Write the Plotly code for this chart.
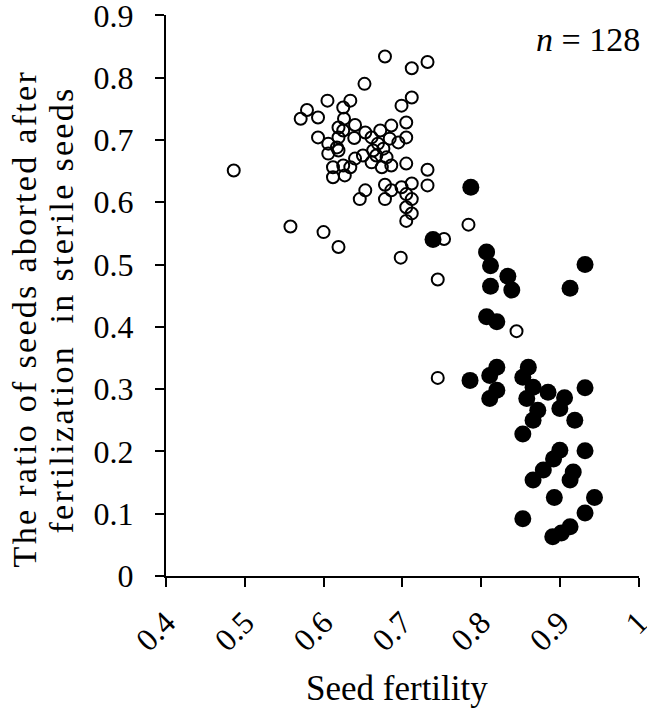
import plotly.graph_objects as go

# Open circles
open_x = [0.678, 0.712, 0.732, 0.652, 0.605, 0.634, 0.625, 0.579, 0.571, 0.593,
          0.712, 0.699, 0.626, 0.619, 0.640, 0.705, 0.686, 0.593, 0.625, 0.653,
          0.672, 0.606, 0.619, 0.639, 0.661, 0.684, 0.705, 0.695, 0.669, 0.617,
          0.606, 0.619, 0.663, 0.676, 0.650, 0.640, 0.667, 0.680, 0.705, 0.612,
          0.625, 0.634, 0.661, 0.674, 0.686, 0.612, 0.627, 0.732, 0.732, 0.486,
          0.678, 0.686, 0.699, 0.712, 0.653, 0.646, 0.678, 0.705, 0.712, 0.705,
          0.712, 0.705, 0.558, 0.600, 0.619, 0.698, 0.753, 0.784, 0.745, 0.745,
          0.845]
open_y = [0.834, 0.815, 0.825, 0.790, 0.763, 0.763, 0.752, 0.748, 0.734, 0.736,
          0.768, 0.755, 0.734, 0.720, 0.724, 0.728, 0.723, 0.704, 0.715, 0.712,
          0.715, 0.694, 0.704, 0.703, 0.704, 0.702, 0.704, 0.696, 0.694, 0.688,
          0.678, 0.683, 0.683, 0.686, 0.675, 0.670, 0.675, 0.672, 0.662, 0.656,
          0.659, 0.656, 0.664, 0.656, 0.659, 0.640, 0.643, 0.652, 0.627, 0.651,
          0.628, 0.619, 0.624, 0.630, 0.619, 0.605, 0.605, 0.613, 0.605, 0.592,
          0.582, 0.570, 0.561, 0.552, 0.528, 0.511, 0.541, 0.564, 0.476, 0.318,
          0.393]

# Filled circles
filled_x = [0.787, 0.739, 0.807, 0.812, 0.834, 0.839, 0.812, 0.932, 0.913, 0.807,
            0.820, 0.786, 0.820, 0.811, 0.820, 0.811, 0.860, 0.853, 0.866, 0.858,
            0.885, 0.906, 0.900, 0.932, 0.919, 0.872, 0.866, 0.853, 0.900, 0.892,
            0.932, 0.879, 0.866, 0.917, 0.913, 0.893, 0.944, 0.932, 0.853, 0.913,
            0.902, 0.891]
filled_y = [0.624, 0.540, 0.520, 0.498, 0.481, 0.459, 0.465, 0.500, 0.462, 0.416,
            0.408, 0.314, 0.335, 0.322, 0.298, 0.285, 0.335, 0.319, 0.303, 0.285,
            0.295, 0.286, 0.269, 0.302, 0.250, 0.266, 0.250, 0.228, 0.202, 0.188,
            0.201, 0.170, 0.154, 0.167, 0.154, 0.126, 0.126, 0.101, 0.092, 0.079,
            0.069, 0.063]

x_ticks = [0.4, 0.5, 0.6, 0.7, 0.8, 0.9, 1.0]
x_ticklabels = ["0.4", "0.5", "0.6", "0.7", "0.8", "0.9", "1"]
y_ticks = [0, 0.1, 0.2, 0.3, 0.4, 0.5, 0.6, 0.7, 0.8, 0.9]
y_ticklabels = ["0", "0.1", "0.2", "0.3", "0.4", "0.5", "0.6", "0.7", "0.8", "0.9"]

x_title = "Seed fertility"
y_title_1 = "The ratio of seeds aborted after"
y_title_2 = "fertilization  in sterile seeds"
n_label = "<i>n</i> = 128"

FONT = "Liberation Serif, Times New Roman, serif"
SPACED = '<span style="letter-spacing:2.3px">{}</span>'

fig = go.Figure()
fig.add_trace(go.Scatter(
    x=filled_x, y=filled_y, mode="markers",
    marker=dict(symbol="circle", size=17, color="black", line=dict(width=0)),
    showlegend=False, hoverinfo="x+y"))
fig.add_trace(go.Scatter(
    x=open_x, y=open_y, mode="markers",
    marker=dict(symbol="circle-open", size=12, color="black", line=dict(width=2)),
    showlegend=False, hoverinfo="x+y"))

axis_common = dict(
    showgrid=False, zeroline=False, showline=True, linecolor="black", linewidth=2,
    ticks="outside", ticklen=9, tickwidth=2, tickcolor="black",
    tickfont=dict(family=FONT, size=32, color="black"),
    ticklabeloverflow="allow", automargin=False,
)
fig.update_xaxes(range=[0.4, 1.0005], tickmode="array", tickvals=x_ticks,
                 ticktext=x_ticklabels, tickangle=-45, ticklabelstandoff=4,
                 **axis_common)
fig.update_yaxes(range=[0, 0.9005], tickmode="array", tickvals=y_ticks,
                 ticktext=y_ticklabels, ticklabelstandoff=15, **axis_common)

# Plot area sits at x 166..639 and y 15..576 in the window
# (the page body margin is removed below).
fig.update_layout(
    width=647, height=716,
    margin=dict(l=166, r=8, t=15, b=140, autoexpand=False),
    plot_bgcolor="white", paper_bgcolor="white",
    font=dict(family=FONT, color="black"),
    annotations=[
        dict(text=x_title, xref="paper", yref="paper", x=0.488, y=-0.2,
             xanchor="center", yanchor="middle", showarrow=False,
             font=dict(family=FONT, size=35, color="black")),
        dict(text=SPACED.format(y_title_1), xref="paper", yref="paper",
             x=-0.300, y=0.4576, xanchor="center", yanchor="middle",
             textangle=-90, showarrow=False,
             font=dict(family=FONT, size=34, color="black")),
        dict(text=SPACED.format(y_title_2), xref="paper", yref="paper",
             x=-0.2199, y=0.475, xanchor="center", yanchor="middle",
             textangle=-90, showarrow=False,
             font=dict(family=FONT, size=34, color="black")),
        dict(text=n_label, xref="paper", yref="paper", x=1.007, y=0.957,
             xanchor="right", yanchor="middle", showarrow=False,
             font=dict(family=FONT, size=34, color="black")),
    ],
)

fig.write_html("out.html",
               config={"displayModeBar": False},
               post_script="document.body.style.margin='0';"
                           "document.body.style.padding='0';")
